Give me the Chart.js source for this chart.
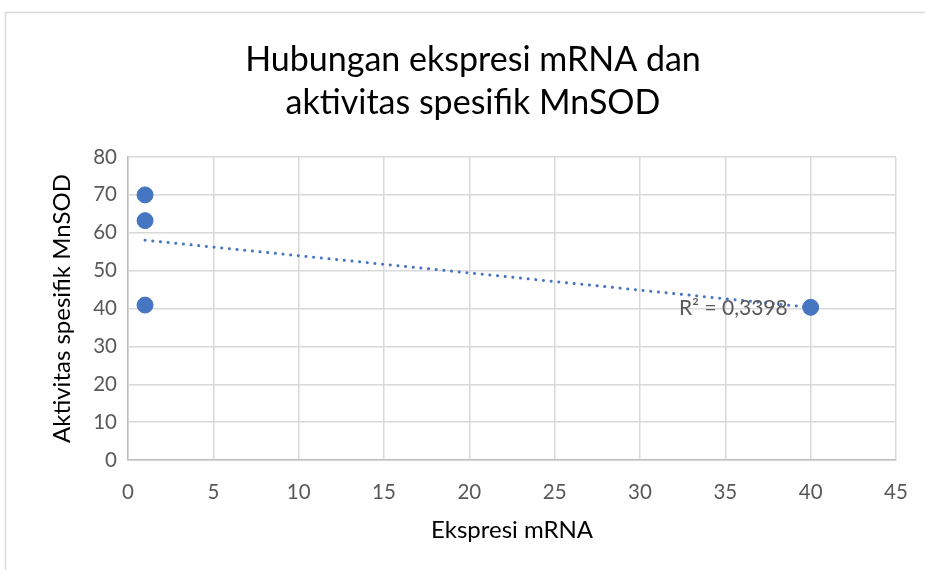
<!DOCTYPE html>
<html>
<head>
<meta charset="utf-8">
<script src="https://cdn.jsdelivr.net/npm/chart.js@4/dist/chart.umd.min.js"></script>
<style>
  html, body { margin: 0; padding: 0; background: #fff; }
  #wrap { position: relative; width: 925px; height: 570px; }
</style>
</head>
<body>
<div id="wrap"><canvas id="c" width="925" height="570"></canvas></div>
<script>
// ---- data ----
const titleLines = ["Hubungan ekspresi mRNA dan", "aktivitas spesifik MnSOD"];
const xTitle = "Ekspresi mRNA";
const yTitle = "Aktivitas spesifik MnSOD";
const mrnaValues = [1, 1, 1, 40];
const mnsodValues = [70, 63.2, 40.9, 40.3];
const r2Label = "R² = 0,3398";
const xTicks = [0, 5, 10, 15, 20, 25, 30, 35, 40, 45];
const yTicks = [0, 10, 20, 30, 40, 50, 60, 70, 80];

// linear trendline through the data (least squares)
const n = mrnaValues.length;
const mx = mrnaValues.reduce((a, b) => a + b, 0) / n;
const my = mnsodValues.reduce((a, b) => a + b, 0) / n;
let sxy = 0, sxx = 0;
for (let i = 0; i < n; i++) { sxy += (mrnaValues[i] - mx) * (mnsodValues[i] - my); sxx += (mrnaValues[i] - mx) ** 2; }
const slope = sxy / sxx, intercept = my - slope * mx;
const xMin = Math.min(...mrnaValues), xMax = Math.max(...mrnaValues);
const trend = [{x: xMin, y: intercept + slope * xMin}, {x: xMax, y: intercept + slope * xMax}];

const FONT = "Lato, 'Open Sans', sans-serif";
const blue = '#4675C2';

const decor = {
  id: 'decor',
  beforeDraw(chart) {
    const ctx = chart.ctx;
    ctx.save();
    ctx.strokeStyle = '#d9d9d9';
    ctx.lineWidth = 1.5;
    ctx.strokeRect(5.5, 12.5, 1200, 1200);
    ctx.fillStyle = '#000';
    ctx.font = "34px " + FONT;
    ctx.textAlign = 'center';
    ctx.textBaseline = 'middle';
    ctx.fillText(titleLines[0], 473, 60);
    ctx.fillText(titleLines[1], 473, 103);
    ctx.restore();
  },
  afterDatasetsDraw(chart) {
    const ctx = chart.ctx;
    const meta = chart.getDatasetMeta(1);
    const end = meta.data[meta.data.length - 1];
    ctx.save();
    ctx.font = "21px " + FONT;
    ctx.fillStyle = '#595959';
    ctx.textAlign = 'right';
    ctx.textBaseline = 'middle';
    ctx.fillText(r2Label, end.x - 23, end.y + 1);
    ctx.restore();
  }
};

new Chart(document.getElementById('c'), {
  type: 'scatter',
  data: {
    datasets: [
      {
        label: 'data',
        data: mrnaValues.map((x, i) => ({x, y: mnsodValues[i]})),
        backgroundColor: blue,
        borderColor: blue,
        pointRadius: 8,
        pointHoverRadius: 8,
        order: 1
      },
      {
        label: 'trend',
        type: 'line',
        data: trend,
        borderColor: blue,
        borderWidth: 3,
        borderDash: [0.1, 7.6],
        borderCapStyle: 'round',
        pointRadius: 0,
        fill: false,
        order: 2
      }
    ]
  },
  options: {
    responsive: false,
    animation: false,
    events: [],
    layout: { padding: { left: 0, right: 29, top: 157, bottom: 0 } },
    plugins: {
      legend: { display: false },
      tooltip: { enabled: false },
      title: { display: false }
    },
    scales: {
      x: {
        type: 'linear',
        min: 0, max: 45,
        afterBuildTicks: s => { s.ticks = xTicks.map(v => ({value: v})); },
        afterFit: s => { s.height = 110; s.paddingRight = 0; s.paddingLeft = 0; },
        ticks: { color: '#595959', font: { family: FONT, size: 20.5 }, padding: 20.5 },
        grid: { color: '#d9d9d9', lineWidth: 1.5, drawTicks: false },
        border: { color: '#bfbfbf', width: 1.5 },
        title: { display: true, text: xTitle, color: '#000', font: { family: FONT, size: 24 }, padding: { top: 0, bottom: 25.6 } }
      },
      y: {
        type: 'linear',
        min: 0, max: 80,
        afterBuildTicks: s => { s.ticks = yTicks.map(v => ({value: v})); },
        afterFit: s => { s.width = 128; s.paddingTop = 0; s.paddingBottom = 0; },
        ticks: { color: '#595959', font: { family: FONT, size: 20.5 }, padding: 11 },
        grid: { color: '#d9d9d9', lineWidth: 1.5, drawTicks: false },
        border: { color: '#bfbfbf', width: 1.5 },
        title: { display: true, text: yTitle, color: '#000', font: { family: FONT, size: 24 }, padding: { top: 47.6, bottom: 0 } }
      }
    }
  },
  plugins: [decor]
});
</script>
</body>
</html>
